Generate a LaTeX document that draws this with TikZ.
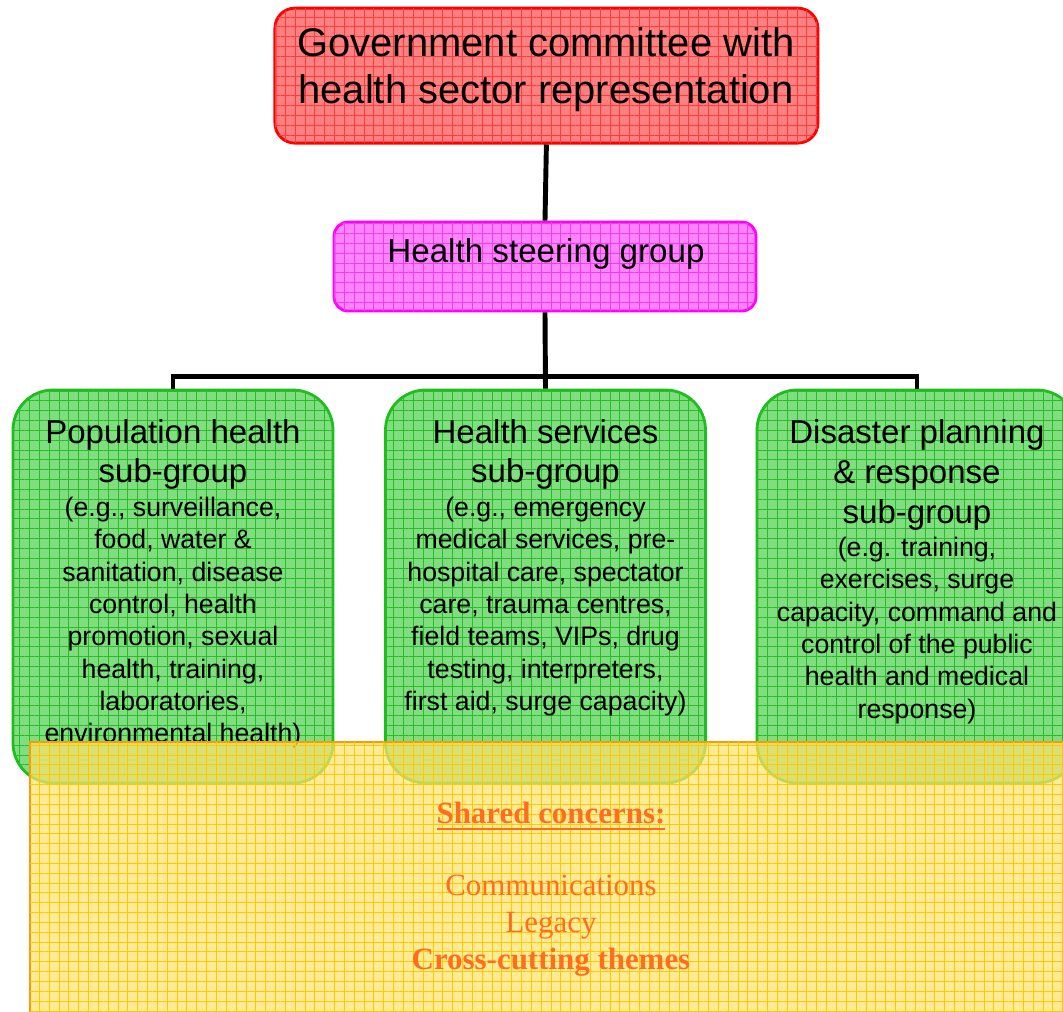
\documentclass[tikz,border=0pt]{standalone}
\usepackage{fontspec}
\setmainfont{Liberation Sans}
\newfontfamily\sharedface{Liberation Serif}
\newcommand{\heavyunderline}[1]{\leavevmode\setbox0=\hbox{#1}\rlap{\rule[-4.5pt]{\wd0}{1.8pt}}\box0}
\usetikzlibrary{positioning,patterns.meta}
\definecolor{govline}{RGB}{255,0,0}
\definecolor{govfill}{RGB}{255,128,128}
\definecolor{govgrid}{RGB}{255,60,60}
\definecolor{steerline}{RGB}{255,0,255}
\definecolor{steerfill}{RGB}{255,130,255}
\definecolor{steergrid}{RGB}{240,60,240}
\definecolor{groupline}{RGB}{30,190,30}
\definecolor{groupfill}{RGB}{128,222,128}
\definecolor{groupgrid}{RGB}{40,190,40}
\definecolor{sharedline}{RGB}{255,153,0}
\definecolor{sharedfill}{RGB}{255,226,110}
\definecolor{sharedgrid}{RGB}{255,200,0}
\definecolor{sharedtext}{RGB}{255,110,30}
\tikzset{
  hatched/.style={postaction={pattern={Hatch[distance=7pt,line width=0.7pt]},pattern color=#1}},
  govbox/.style={draw=govline, fill=govfill, hatched=govgrid, line width=2pt, rounded corners=0.5cm,
    minimum width=13.575cm, minimum height=3.375cm, inner sep=0pt},
  steerbox/.style={draw=steerline, fill=steerfill, hatched=steergrid, line width=2pt, rounded corners=0.35cm,
    minimum width=10.55cm, minimum height=2.225cm, inner sep=0pt},
  groupbox/.style={draw=groupline, fill=groupfill, hatched=groupgrid, line width=2pt, rounded corners=1cm,
    minimum width=8cm, minimum height=9.825cm, inner sep=0pt},
  grouptitle/.style={align=center, anchor=north, inner sep=0pt, font=\fontsize{23.5}{27.5}\selectfont},
  groupdetail/.style={align=center, inner sep=0pt, font=\fontsize{19}{23}\selectfont},
  link/.style={draw=black, line width=3.5pt}
}
\begin{document}
\begin{tikzpicture}
\clip (0,0) rectangle (26.575,-25.275);
% boxes
\node[govbox] (gov) at (13.66,-1.89) {};
\node[steerbox] (steer) at (13.625,-6.6625) {};
\node[groupbox] (popn) at (4.325,-14.6625) {};
\node[groupbox] (services) at (13.6375,-14.6625) {};
\node[groupbox] (disaster) at (22.925,-14.6625) {};
\coordinate (bar) at ([yshift=0.3cm]services.north);
% texts
\node[align=center, inner sep=0pt, font=\fontsize{28.4}{33.4}\selectfont] (govT) at (13.65,-1.75)
  {Government committee with\\health sector representation};
\node[inner sep=0pt, font=\fontsize{23.6}{27}\selectfont] (steerT) at (13.65,-6.35) {Health steering group};
\node[grouptitle] (popnT) at ([yshift=-0.775cm]popn.north) {Population health\\sub-group};
\node[groupdetail, below=0.18cm of popnT] (popnD) {(e.g., surveillance,\\food, water \&\\sanitation, disease\\control, health\\promotion, sexual\\health, training,\\laboratories,\\environmental health)};
\node[grouptitle] (servicesT) at ([yshift=-0.775cm]services.north) {Health services\\sub-group};
\node[groupdetail, below=0.18cm of servicesT] (servicesD) {(e.g., emergency\\medical services, pre-\\hospital care, spectator\\care, trauma centres,\\field teams, VIPs, drug\\testing, interpreters,\\first aid, surge capacity)};
\node[grouptitle, font=\fontsize{23.5}{28.5}\selectfont] (disasterT) at ([yshift=-0.775cm]disaster.north) {Disaster planning\\\& response\\sub-group};
\node[groupdetail, below=0.14cm of disasterT] (disasterD) {(e.g. training,\\exercises, surge\\capacity, command and\\control of the public\\health and medical\\response)};
% links
\draw[link] (gov.south) -- (steer.north);
\draw[link] (steer.south) -- (services.north);
\draw[link] (popn.north) |- (bar) -| (disaster.north);
% shared concerns
\path[draw=sharedline, line width=1.5pt, fill=sharedfill, fill opacity=0.72, hatched=sharedgrid]
  (0.75,-18.55) rectangle (27.2,-26);
\node[align=center, anchor=north, inner sep=0pt, text=sharedtext, font=\sharedface\fontsize{22}{26.3}\selectfont] (sharedT) at (13.775,-20.05)
  {\textbf{\heavyunderline{Shared concerns:}}\\[25pt]Communications\\Legacy\\\textbf{Cross-cutting themes}};
\end{tikzpicture}
\end{document}
